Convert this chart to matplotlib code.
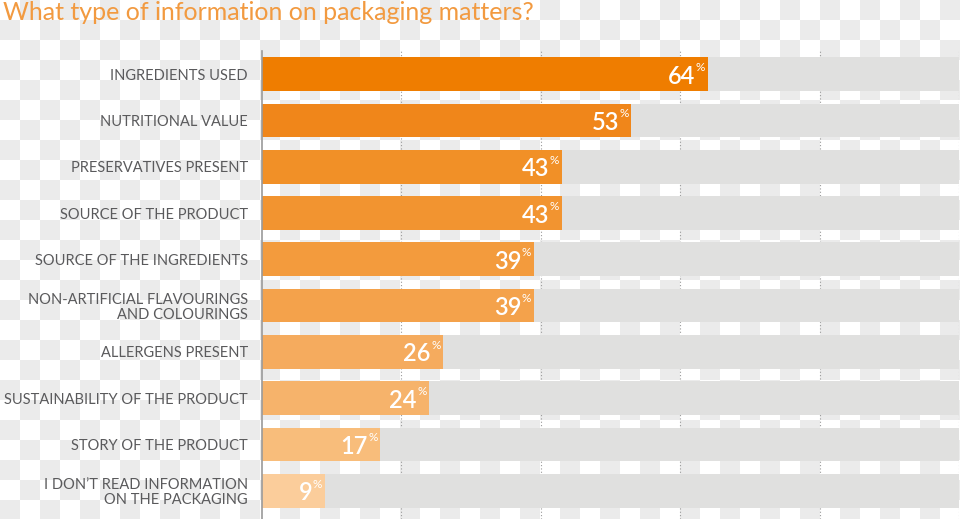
import numpy as np
import matplotlib
matplotlib.use('Agg')
import matplotlib.pyplot as plt
import matplotlib.transforms as mtransforms

categories = [
    'INGREDIENTS USED',
    'NUTRITIONAL VALUE',
    'PRESERVATIVES PRESENT',
    'SOURCE OF THE PRODUCT',
    'SOURCE OF THE INGREDIENTS',
    'NON-ARTIFICIAL FLAVOURINGS\nAND COLOURINGS',
    'ALLERGENS PRESENT',
    'SUSTAINABILITY OF THE PRODUCT',
    'STORY OF THE PRODUCT',
    'I DON\u2019T READ INFORMATION\nON THE PACKAGING',
]
values = [64, 53, 43, 43, 39, 39, 26, 24, 17, 9]
bar_colors = ['#ef7d00', '#f0861a', '#f19027', '#f29430', '#f39b3d',
              '#f4a24b', '#f5ab5e', '#f6b36b', '#f8bd7b', '#fbcd9b']
title = 'What type of information on packaging matters?'

W, H = 960, 519
fig = plt.figure(figsize=(W / 100, H / 100), dpi=100)

# transparent-background checkerboard
yy, xx = np.mgrid[0:H, 0:W]
checker = ((xx // 20 + yy // 20) % 2 == 1)
bg = np.ones((H, W, 3))
bg[checker] = 0.925
fig.figimage(bg, xo=0, yo=0, zorder=-10)

ax = fig.add_axes([262 / W, 0, 697 / W, 1 - 51 / H])
ax.set_facecolor('none')

y = np.arange(len(categories))
ax.barh(y, [100] * len(values), height=0.73, color='#e0e0df', zorder=2)
ax.barh(y, values, height=0.73, color=bar_colors, zorder=3)

ax.set_xlim(0, 100)
ax.set_ylim(9.61, -0.5)
ax.set_xticks([20, 40, 60, 80, 100])
ax.xaxis.grid(True, linestyle=(0, (1, 2)), color='#9a9a9a', linewidth=0.8, zorder=1)
ax.set_axisbelow(True)
ax.tick_params(axis='x', length=0, labelbottom=False)
ax.set_yticks(y)
ax.set_yticklabels(categories, fontsize=10.5, color='#5a5a5c', family='Lato',
                   linespacing=1.1)
ax.tick_params(axis='y', length=0, pad=10)
for s in ['top', 'right', 'bottom']:
    ax.spines[s].set_visible(False)
ax.spines['left'].set_color('#9a9a9a')
ax.spines['left'].set_linewidth(1.2)
ax.spines['left'].set_zorder(5)

for i, v in enumerate(values):
    t_num = ax.transData + mtransforms.ScaledTranslation(-9 / 72, 0, fig.dpi_scale_trans)
    t_pct = ax.transData + mtransforms.ScaledTranslation(-2 / 72, 5.5 / 72, fig.dpi_scale_trans)
    ax.text(v, i, str(v), transform=t_num, ha='right', va='center_baseline',
            color='white', fontsize=17, family='Lato', fontweight='semibold', zorder=6)
    ax.text(v, i, '%', transform=t_pct, ha='right', va='center_baseline',
            color='white', fontsize=8.5, family='Lato', zorder=6)

fig.text(3 / W, 1 - 1 / H, title, ha='left', va='top', fontsize=18,
         color='#f29a40', family='Lato', fontweight='normal')

fig.savefig('out.png', dpi=100)
